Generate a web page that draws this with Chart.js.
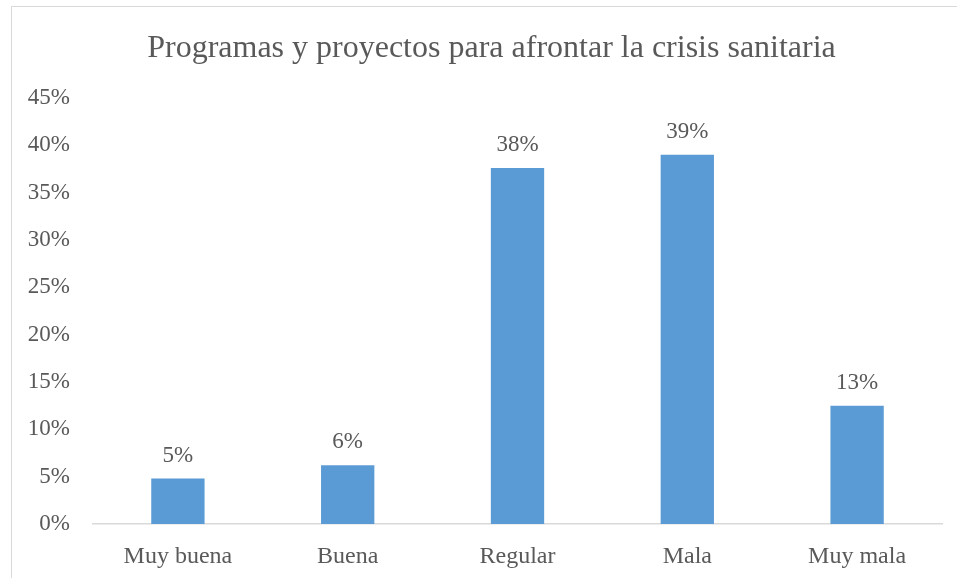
<!DOCTYPE html>
<html>
<head>
<meta charset="utf-8">
<script src="https://cdn.jsdelivr.net/npm/chart.js@4/dist/chart.umd.min.js"></script>
<style>
    html, body { margin: 0; padding: 0; background: #fff; overflow: hidden; }
    #frame {
        position: absolute; left: 11px; top: 6px;
        width: 1000px; height: 1000px;
        border-left: 1px solid #d9d9d9; border-top: 1px solid #d9d9d9;
    }
    #wrap { position: absolute; left: 0; top: 0; width: 957px; height: 578px; }
</style>
</head>
<body>
<div id="frame"></div>
<div id="wrap"><canvas id="chart"></canvas></div>
<script>
// categorias y valores (%)
var categories = ['Muy buena', 'Buena', 'Regular', 'Mala', 'Muy mala'];
var values = [4.8, 6.2, 37.6, 39.0, 12.5];
var valueLabels = ['5%', '6%', '38%', '39%', '13%'];
var yTicks = [0, 5, 10, 15, 20, 25, 30, 35, 40, 45];
var titleText = 'Programas y proyectos para afrontar la crisis sanitaria';

var serif = "'Liberation Serif', 'Times New Roman', serif";
var textColor = '#595959';

// titulo centrado sobre el marco del grafico (no sobre el canvas)
var frameTitle = {
    id: 'frameTitle',
    afterDraw: function (chart) {
        var ctx = chart.ctx;
        ctx.save();
        ctx.font = '32px ' + serif;
        ctx.fillStyle = textColor;
        ctx.textAlign = 'center';
        ctx.textBaseline = 'alphabetic';
        ctx.fillText(titleText, 491.5, 57);
        ctx.restore();
    }
};

// etiquetas encima de cada barra
var barLabels = {
    id: 'barLabels',
    afterDatasetsDraw: function (chart) {
        var ctx = chart.ctx;
        var meta = chart.getDatasetMeta(0);
        ctx.save();
        ctx.font = '23px ' + serif;
        ctx.fillStyle = textColor;
        ctx.textAlign = 'center';
        ctx.textBaseline = 'alphabetic';
        meta.data.forEach(function (bar, i) {
            ctx.fillText(valueLabels[i], bar.x, bar.y - 17);
        });
        ctx.restore();
    }
};

new Chart(document.getElementById('chart'), {
    type: 'bar',
    data: {
        labels: categories,
        datasets: [{
            data: values,
            backgroundColor: '#5b9bd5',
            borderWidth: 0,
            barPercentage: 0.314,
            categoryPercentage: 1
        }]
    },
    options: {
        responsive: true,
        maintainAspectRatio: false,
        animation: false,
        layout: { padding: { left: 0, right: 15, top: 98, bottom: 0 } },
        plugins: {
            legend: { display: false },
            tooltip: { enabled: false },
            title: { display: false }
        },
        scales: {
            x: {
                grid: { display: false },
                border: { display: true, color: '#d9d9d9', width: 1.5 },
                ticks: {
                    color: textColor,
                    font: { family: serif, size: 24 },
                    padding: 10,
                    maxRotation: 0
                },
                afterFit: function (scale) { scale.height = 54; }
            },
            y: {
                min: 0,
                max: 45,
                grid: { display: false, drawTicks: false },
                border: { display: false },
                afterBuildTicks: function (scale) {
                    scale.ticks = yTicks.map(function (v) { return { value: v }; });
                },
                ticks: {
                    color: textColor,
                    font: { family: serif, size: 23 },
                    padding: 23,
                    callback: function (v) { return v + '%'; }
                },
                afterFit: function (scale) { scale.width = 93; }
            }
        }
    },
    plugins: [barLabels, frameTitle]
});
</script>
</body>
</html>
